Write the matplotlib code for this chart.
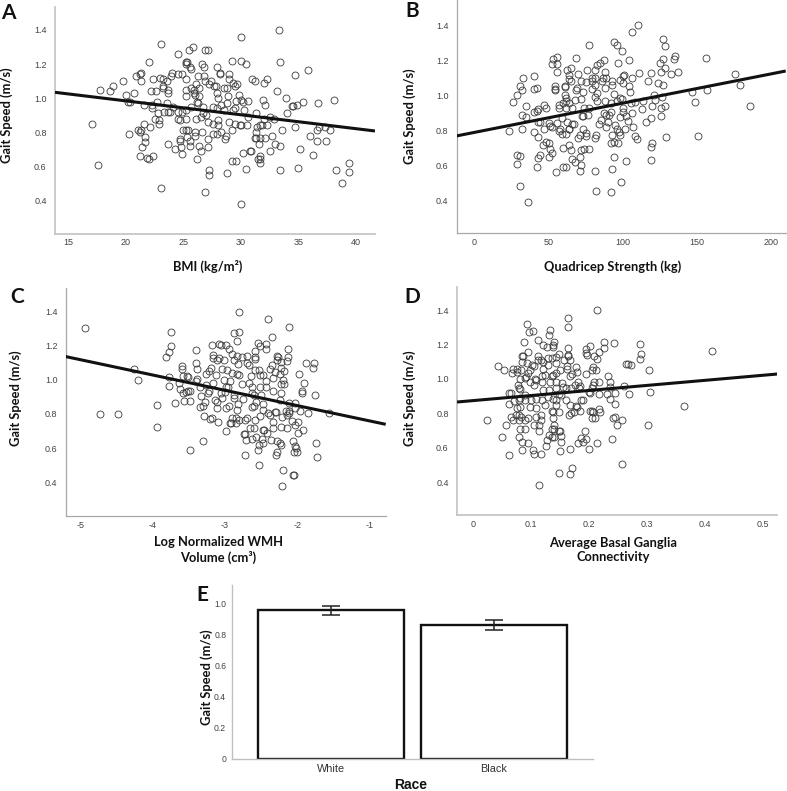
"""Gait speed vs BMI, strength, WMH, connectivity and race: five panel figure."""
import numpy as np
import matplotlib
matplotlib.use("Agg")
import matplotlib.pyplot as plt

W, H = 787, 791

SPEED_TICKS = [0.4, 0.6, 0.8, 1.0, 1.2, 1.4]

# (x, gait speed)
bmi_points = [
    (17.1,.85),(17.6,.61),(17.8,1.05),(18.6,1.04),(18.9,1.07),(19.8,1.10),(20.0,1.02),(20.2,.98),(20.4,.98),(20.3,.79),
    (20.7,1.03),(20.9,1.13),(21.1,.81),(21.2,1.14),(21.3,1.15),(21.3,1.10),(21.2,.80),(21.3,.81),(21.2,.66),(21.4,.71),
    (21.6,.85),(21.6,.96),(21.7,.74),(21.7,.77),(21.8,.65),(22.0,.64),(22.0,1.21),(22.1,.83),(22.2,1.04),(22.3,.96),
    (22.3,.94),(22.4,1.11),(22.4,.66),(22.5,.88),(22.6,1.04),(22.7,.98),(22.8,.91),(22.9,.87),(22.9,.85),(23.0,1.12),
    (23.1,1.32),(23.1,.47),(23.2,1.07),(23.2,1.11),(23.2,1.06),(23.3,.92),(23.6,1.10),(23.6,.97),(23.7,.92),(23.7,1.05),
    (23.7,1.03),(23.7,.73),(23.8,.92),(23.9,1.13),(24.0,1.15),(24.1,.95),(24.3,.70),(24.5,1.14),(24.5,.92),(24.5,.88),
    (24.7,.87),(24.7,.76),(24.7,.75),(24.8,.71),(24.55,1.26),(24.9,.67),(24.9,1.14),(25.2,1.21),(25.2,1.20),(25.3,1.21),
    (25.6,1.18),(25.5,1.28),(25.8,1.30),(25.7,1.17),(25.2,1.11),(25.2,1.05),(25.2,1.01),(25.7,1.06),(25.9,1.05),(25.9,1.03),
    (26.0,1.02),(26.1,1.08),(26.3,1.13),(26.4,1.06),(26.2,.98),(26.4,1.01),(26.3,.97),(25.7,.95),(25.2,.93),(24.9,.92),
    (25.2,.88),(26.1,.88),(26.5,.89),(26.7,.91),(26.7,.95),(27.0,.90),(27.1,.86),(25.0,.81),(25.2,.81),(25.4,.81),
    (25.3,.77),(25.6,.75),(25.6,.72),(26.0,.78),(26.0,.80),(26.6,.80),(26.4,.72),(26.5,.69),(26.2,.64),(27.1,.71),
    (27.1,.76),(27.2,.58),(27.2,.55),(26.9,.45),(26.6,1.20),(26.8,1.18),(26.9,1.28),(27.1,1.285),(26.8,1.13),(26.9,1.10),
    (27.2,1.08),(27.4,1.10),(27.7,1.07),(27.8,1.07),(27.9,1.18),(28.2,1.15),(28.2,1.14),(28.5,1.06),(27.9,1.03),(28.0,1.00),
    (27.6,.95),(27.9,.94),(28.3,.96),(27.6,.85),(28.0,.87),(28.0,.84),(27.6,.79),(27.9,.79),(28.3,.80),(28.7,.775),
    (28.6,.76),(28.5,.93),(28.8,1.06),(29.0,1.14),(29.0,1.11),(29.2,1.22),(29.3,1.09),(29.5,1.07),(29.7,1.08),(28.9,1.01),
    (28.8,.97),(29.0,.86),(29.2,.81),(29.5,.85),(29.9,.84),(30.0,.84),(29.3,.93),(29.5,.94),(29.6,.985),(29.8,1.02),
    (30.0,.99),(30.2,.98),(30.0,1.22),(30.4,1.20),(30.0,1.36),(30.0,.38),(29.2,.63),(29.6,.63),(28.8,.56),(30.4,.585),
    (30.2,.68),(30.8,.69),(30.9,.69),(30.3,.93),(30.6,.89),(30.5,.84),(30.6,.985),(30.95,1.11),(31.2,1.10),(32.0,1.09),
    (32.3,1.11),(31.35,.915),(31.9,.99),(32.1,.96),(31.35,.80),(31.4,.83),(31.7,.84),(31.8,.84),(32.3,.84),(32.0,.88),
    (32.5,.89),(32.9,.875),(31.2,.765),(31.3,.765),(31.7,.765),(32.1,.765),(32.7,.78),(33.0,.73),(33.4,.72),(31.6,.73),
    (32.5,.69),(31.5,.64),(31.7,.66),(31.7,.64),(31.7,.62),(33.4,.58),(35.0,.59),(35.1,.70),(36.3,.665),(36.0,.775),
    (36.6,.75),(37.4,.75),(36.6,.81),(36.8,.83),(37.3,.83),(37.7,.81),(38.1,.99),(36.7,.97),(35.4,.98),(34.9,.96),
    (34.5,.955),(34.45,.955),(34.0,.91),(33.9,1.00),(33.1,1.04),(33.4,1.21),(33.35,1.40),(34.7,1.135),(35.8,1.165),(34.7,.83),
    (33.6,.815),(38.3,.575),(38.8,.50),(39.35,.62),(39.35,.565),
]
strength_points = [
    (23,.796),(26.3,.96),(29,1.0),(29,.66),(31,.655),(29,.61),(30.4,.48),(36,.39),(31,1.055),(32,1.03),
    (33,1.10),(32,.885),(32,.81),(35,.875),(35,.94),(40,1.035),(42,1.04),(40,1.11),(40,.905),(42,.91),
    (43,.92),(43,.85),(44,.85),(40,.79),(43,.76),(46,.715),(43,.64),(44,.66),(42,.59),(47,.945),
    (48,.93),(47,.81),(50,.84),(51,.825),(48,.735),(50,.73),(51,.695),(52,.67),(50,.645),(52.5,.82),
    (52,1.18),(53,1.205),(56,1.22),(56,1.18),(56,1.135),(54,1.055),(54,1.035),(54,1.03),(55,.56),(57,.945),
    (57,.925),(56,.84),(58,.81),(57,.795),(59,.78),(61,1.045),(62.5,1.145),(61,1.055),(60,.70),(60,.59),
    (62,.59),(61,1.0),(62,.985),(60,.955),(62,.965),(62,.93),(59,.87),(62.5,.85),(62,.78),(64,.81),
    (64,.805),(64,.715),(65,.69),(65,1.155),(64,1.115),(64,1.095),(65,1.08),(64,.955),(66,.93),(65.5,.835),
    (67,.835),(66,.635),(67.5,.62),(68.5,1.215),(68,.975),(69,1.04),(68.5,1.03),(70,1.12),(72,1.08),(72,.98),
    (73,1.02),(70,.755),(71.5,.775),(71,.565),(72,.60),(71,.65),(72,.685),(72.5,.88),(73.5,.88),(74,.925),
    (73,.81),(75,.785),(75,.77),(74,.695),(77,.695),(76.5,.885),(77.5,.925),(76,1.145),(75.5,1.075),(79,1.08),
    (77,1.285),(79,1.10),(81,1.145),(81.5,1.10),(79,1.035),(81,1.06),(81,.99),(83,1.015),(83,1.175),(84.5,1.185),
    (87.5,1.20),(81,.755),(82,.775),(81,.565),(82,.455),(84,.835),(85.5,.86),(83,.965),(86.5,1.10),(86,1.08),
    (88,1.135),(88,1.04),(89,1.10),(88,.965),(87.5,.90),(89,.885),(89,.82),(90,.85),(91,.89),(93,1.08),
    (92.5,1.06),(94,1.01),(92,.955),(92,.905),(93,.775),(92,.73),(94,.735),(93,.58),(94,.65),(92,.45),
    (94,1.305),(96.5,1.285),(99.5,1.255),(97,1.185),(95,.83),(96,.81),(97.5,.79),(98,.775),(97,.725),(96,.965),
    (98,.985),(99.5,.98),(98,1.09),(100,1.11),(101,1.115),(100,1.07),(99,.505),(102,.625),(101.5,.81),(98,.875),
    (100,.925),(100,.905),(102,.88),(103.5,.855),(104.5,1.20),(104.5,1.055),(105,1.02),(105.5,.955),(106,.90),(106,1.10),
    (106,1.36),(107,.82),(108,.96),(108,.77),(109.5,.75),(110,1.40),(111,1.13),(113,.92),(114,.965),(116,.85),
    (117,1.08),(119,1.13),(119,.87),(119,.705),(120,.73),(119,.63),(120,.94),(121,1.0),(122,.975),(124,1.07),
    (125.5,1.185),(126,1.135),(127,1.21),(127,1.32),(128.5,1.28),(127,1.06),(126.5,.99),(126,.93),(126,.88),(128.5,.94),
    (128.5,1.155),(129.5,.76),(132.5,1.12),(134.5,1.205),(135,1.225),(137,1.135),(147,1.02),(149,.96),(151,.77),(156,1.215),
    (157,1.03),(176,1.12),(179,1.06),(186,.94),
]
wmh_points = [
    (-4.94,1.30),(-4.73,.80),(-4.48,.80),(-4.26,1.06),(-4.2,1.0),(-3.94,.85),(-3.94,.725),(-3.81,1.13),(-3.78,1.16),(-3.74,1.195),
    (-3.75,1.28),(-3.78,1.015),(-3.78,.965),(-3.69,.865),(-3.63,.98),(-3.6,1.08),(-3.59,1.065),(-3.62,.945),(-3.58,1.02),(-3.58,.925),
    (-3.57,.875),(-3.54,.93),(-3.53,1.02),(-3.51,1.015),(-3.51,.935),(-3.48,.935),(-3.49,.875),(-3.48,.59),(-3.4,1.175),(-3.4,1.095),
    (-3.39,1.065),(-3.4,.995),(-3.38,1.005),(-3.35,.955),(-3.35,.84),(-3.33,.905),(-3.3,.845),(-3.28,.87),(-3.29,.79),(-3.3,.64),
    (-3.26,1.035),(-3.26,.97),(-3.24,.92),(-3.22,.935),(-3.21,.77),(-3.18,.775),(-3.22,1.05),(-3.18,1.20),(-3.19,1.07),(-3.17,1.145),
    (-3.16,1.125),(-3.17,.98),(-3.14,.88),(-3.12,1.025),(-3.11,1.115),(-3.1,.755),(-3.11,.835),(-3.11,.87),(-3.08,1.21),(-3.06,1.205),
    (-3.08,1.125),(-3.06,.92),(-3.04,1.065),(-3.04,.89),(-3.02,1.0),(-3.01,1.115),(-3.0,.93),(-2.99,1.2),(-2.99,.955),(-2.99,.70),
    (-2.96,.955),(-2.98,.835),(-2.95,.845),(-2.95,1.18),(-2.97,1.055),(-2.93,.99),(-2.93,.745),(-2.91,.745),(-2.9,1.04),(-2.9,1.15),
    (-2.88,1.115),(-2.88,.91),(-2.88,.895),(-2.9,.775),(-2.88,1.27),(-2.84,1.035),(-2.81,1.03),(-2.83,1.225),(-2.83,1.14),(-2.81,1.28),
    (-2.81,1.395),(-2.82,1.09),(-2.85,.775),(-2.85,.745),(-2.82,.86),(-2.83,.82),(-2.81,.765),(-2.77,1.135),(-2.77,.975),(-2.75,.885),
    (-2.74,.685),(-2.72,.685),(-2.72,.56),(-2.71,.65),(-2.7,1.14),(-2.7,1.10),(-2.67,1.085),(-2.69,.775),(-2.72,.765),(-2.66,.715),
    (-2.63,.655),(-2.6,.72),(-2.64,1.02),(-2.67,.98),(-2.63,.96),(-2.62,.92),(-2.6,.91),(-2.62,.84),(-2.6,.845),(-2.59,1.13),
    (-2.58,1.12),(-2.59,1.17),(-2.58,1.055),(-2.57,.87),(-2.58,.765),(-2.57,.665),(-2.55,.59),(-2.55,1.215),(-2.52,1.195),(-2.53,.5),
    (-2.53,.62),(-2.52,.79),(-2.51,1.03),(-2.52,.96),(-2.5,.91),(-2.53,1.055),(-2.49,.655),(-2.48,.705),(-2.46,.705),(-2.42,.69),
    (-2.47,.63),(-2.47,.825),(-2.47,.86),(-2.47,1.03),(-2.44,1.21),(-2.43,1.18),(-2.44,.99),(-2.43,.955),(-2.4,1.355),(-2.4,.805),
    (-2.38,.795),(-2.38,1.06),(-2.35,1.25),(-2.35,1.085),(-2.34,.75),(-2.33,.715),(-2.36,.65),(-2.33,1.01),(-2.34,.935),(-2.31,.81),
    (-2.3,.81),(-2.31,1.045),(-2.28,1.14),(-2.27,1.13),(-2.28,1.115),(-2.29,.56),(-2.28,.58),(-2.28,.64),(-2.24,.63),(-2.23,.62),
    (-2.23,.725),(-2.24,.88),(-2.23,.92),(-2.24,1.035),(-2.22,1.105),(-2.22,1.07),(-2.22,.975),(-2.19,.975),(-2.2,1.0),(-2.21,.78),
    (-2.2,.47),(-2.21,.38),(-2.18,1.05),(-2.16,.815),(-2.15,1.11),(-2.13,1.18),(-2.13,1.13),(-2.14,.72),(-2.14,.795),(-2.12,.865),
    (-2.12,.805),(-2.11,1.31),(-2.11,.815),(-2.07,.76),(-2.06,.64),(-2.05,.445),(-2.06,.44),(-2.04,.575),(-2.03,.865),(-2.03,.835),
    (-2.03,.735),(-2.03,.61),(-2.02,.6),(-2.0,.58),(-1.99,.755),(-1.99,.69),(-1.98,1.035),(-1.97,.815),(-1.94,.935),(-1.94,.925),
    (-1.92,.705),(-1.91,.98),(-1.88,1.095),(-1.86,.805),(-1.79,1.07),(-1.77,1.1),(-1.76,.91),(-1.74,.63),(-1.73,.55),(-1.57,.805),
]
conn_points = [
    (.024,.76),(.043,1.075),(.051,.66),(.054,1.05),(.057,.735),(.063,.555),(.062,.92),(.066,.92),(.063,.855),(.067,1.035),
    (.069,1.06),(.066,.78),(.07,.76),(.072,.87),(.077,1.06),(.076,1.04),(.078,.965),(.079,.95),(.076,.83),(.079,.88),
    (.075,.79),(.08,.79),(.08,.76),(.081,.71),(.08,.66),(.082,1.0),(.082,.94),(.083,1.055),(.082,.89),(.082,.835),
    (.083,.78),(.085,.635),(.085,.585),(.085,1.135),(.086,1.135),(.085,1.10),(.088,1.215),(.09,.875),(.091,.905),(.09,1.005),
    (.092,1.01),(.09,.76),(.09,.71),(.093,1.32),(.094,1.095),(.096,1.155),(.097,1.275),(.096,1.035),(.096,.775),(.096,.625),
    (.098,.835),(.098,.98),(.099,1.055),(.101,.88),(.104,1.28),(.102,1.08),(.105,1.075),(.105,.73),(.104,.585),(.105,.565),
    (.106,.965),(.108,1.0),(.109,.885),(.11,.995),(.112,1.225),(.112,1.135),(.113,1.11),(.11,.83),(.11,.78),(.114,.385),
    (.115,.70),(.114,.73),(.117,.565),(.117,.76),(.117,.79),(.118,1.11),(.119,1.015),(.12,.88),(.119,.985),(.122,1.06),
    (.122,.935),(.122,1.10),(.122,1.20),(.125,.85),(.125,1.025),(.126,.61),(.128,1.185),(.128,.645),(.129,1.12),(.129,1.08),
    (.13,.895),(.132,.935),(.132,1.255),(.133,1.285),(.132,.675),(.133,.985),(.136,1.015),(.136,.815),(.138,.81),(.137,.71),
    (.136,.665),(.136,1.125),(.138,1.185),(.14,1.215),(.139,1.2),(.138,.885),(.139,1.025),(.141,.73),(.139,.77),(.14,.665),
    (.14,.71),(.144,1.13),(.144,.985),(.144,1.095),(.144,1.035),(.144,.945),(.144,.85),(.144,.875),(.148,.805),(.148,.70),
    (.15,.695),(.149,.455),(.149,1.145),(.15,1.05),(.148,.915),(.151,.58),(.153,.67),(.153,.635),(.153,.905),(.154,.975),
    (.156,.955),(.158,1.11),(.16,.945),(.16,.875),(.162,1.075),(.163,1.06),(.164,1.18),(.164,1.14),(.165,1.135),(.164,1.305),
    (.165,1.355),(.166,.79),(.167,.59),(.168,.85),(.167,1.11),(.168,1.015),(.17,.80),(.169,.95),(.168,.445),(.172,.48),
    (.171,1.03),(.175,.805),(.177,.965),(.178,.84),(.179,.835),(.178,1.07),(.179,1.04),(.182,.985),(.182,.625),(.184,.95),
    (.185,.815),(.186,.655),(.186,.88),(.185,.96),(.191,.88),(.19,.635),(.193,.695),(.195,.65),(.195,1.03),(.195,1.175),
    (.196,1.15),(.197,1.14),(.2,.595),(.203,1.195),(.202,.815),(.205,.815),(.203,.92),(.2,.925),(.205,1.055),(.205,.95),
    (.208,.965),(.209,.98),(.209,1.135),(.208,1.07),(.206,.775),(.21,.775),(.208,.81),(.213,1.055),(.214,.625),(.215,1.40),
    (.215,1.115),(.217,.915),(.217,1.155),(.218,.98),(.217,.825),(.219,.81),(.226,1.18),(.227,1.215),(.232,.915),(.234,1.02),
    (.236,.985),(.236,.955),(.236,.885),(.24,.65),(.242,.775),(.243,1.21),(.245,.92),(.245,.855),(.246,.78),(.248,.73),
    (.257,.76),(.258,.505),(.261,.96),(.264,1.09),(.268,1.09),(.27,.915),(.273,1.08),(.288,1.115),(.288,1.205),(.29,1.145),
    (.302,.73),(.304,1.05),(.306,.925),(.364,.845),(.413,1.165),
]

# fit lines, end points as seen in the figure
bmi_fit = ([13.85, 41.65], [1.034, 0.807])
strength_fit = ([-12, 210], [0.768, 1.139])
wmh_fit = ([-5.2, -0.78], [1.135, 0.739])
conn_fit = ([-0.027, 0.525], [0.866, 1.029])

race = ["White", "Black"]
race_speed = [0.96, 0.862]
race_low = [0.927, 0.83]
race_high = [0.987, 0.897]


def px_axes(fig, left, right, top, bottom):
    """Axes placed by image pixels (origin top left)."""
    return fig.add_axes([left / W, 1 - bottom / H, (right - left) / W, (bottom - top) / H])


def px_text(fig, x, y, s, **kw):
    fig.text(x / W, 1 - y / H, s, ha="center", va="center", **kw)


def scatter_panel(fig, box, points, fit, xlim, ylim, xticks, xlabels, spine_color, spine_width):
    ax = px_axes(fig, *box)
    pts = np.array(points)
    ax.plot(pts[:, 0], pts[:, 1], "o", ms=5.0, mfc="none", mec="#3a3a3a", mew=0.6, clip_on=False)
    ax.plot(fit[0], fit[1], color="#111111", lw=2.2, solid_capstyle="butt", zorder=5)
    ax.set_xlim(*xlim)
    ax.set_ylim(*ylim)
    ax.set_xticks(xticks, xlabels)
    ax.set_yticks(SPEED_TICKS, [f"{t:.1f}" for t in SPEED_TICKS])
    ax.tick_params(length=0, labelsize=6.5, labelcolor="#444444", labelfontfamily="Liberation Sans")
    ax.tick_params(axis="x", pad=3.5)
    ax.tick_params(axis="y", pad=6)
    for side in ("top", "right"):
        ax.spines[side].set_visible(False)
    for side in ("left", "bottom"):
        ax.spines[side].set_color(spine_color)
        ax.spines[side].set_linewidth(spine_width)
    return ax


fig = plt.figure(figsize=(W / 100, H / 100), dpi=100)
label_kw = dict(fontfamily="Lato", fontweight="bold", fontsize=9.3, color="#111111")
letter_kw = dict(fontfamily="Lato", fontweight="bold", fontsize=15, color="#111111")

scatter_panel(fig, (55, 375, 7, 233.5), bmi_points, bmi_fit, (13.85, 41.65), (0.205, 1.535),
              [15, 20, 25, 30, 35, 40], ["15", "20", "25", "30", "35", "40"], "#c6c6c6", 1.3)
scatter_panel(fig, (456.7, 785.7, 0, 233.3), strength_points, strength_fit, (-12, 210), (0.211, 1.545),
              [0, 50, 100, 150, 200], ["0", "50", "100", "150", "200"], "#a8a8a8", 0.9)
scatter_panel(fig, (65.7, 385.7, 288, 516), wmh_points, wmh_fit, (-5.2, -0.78), (0.203, 1.536),
              [-5, -4, -3, -2, -1], ["-5", "-4", "-3", "-2", "-1"], "#a8a8a8", 0.9)
scatter_panel(fig, (457, 777.3, 286.7, 515), conn_points, conn_fit, (-0.027, 0.525), (0.208, 1.5375),
              [0, 0.1, 0.2, 0.3, 0.4, 0.5], ["0", "0.1", "0.2", "0.3", "0.4", "0.5"], "#c6c6c6", 1.3)

# --- race bars ---
ax = px_axes(fig, 231.7, 592.7, 585, 758.7)
xpos = np.arange(len(race))
ax.bar(xpos, race_speed, width=0.9, facecolor="white", edgecolor="#111111", linewidth=1.7, zorder=2)
yerr = [np.array(race_speed) - np.array(race_low), np.array(race_high) - np.array(race_speed)]
ax.errorbar(xpos, race_speed, yerr=yerr, fmt="none", ecolor="#222222", elinewidth=1.1,
            capsize=6.5, capthick=1.1, zorder=3)
ax.set_xlim(-0.609, 1.606)
ax.set_ylim(0, 1.12)
ax.set_xticks(xpos, race, fontfamily="Liberation Sans", fontsize=7.8, color="#333333")
ax.set_yticks([0, 0.2, 0.4, 0.6, 0.8, 1.0], ["0", "0.2", "0.4", "0.6", "0.8", "1.0"],
              fontfamily="Liberation Sans", fontsize=6.2, color="#444444")
ax.tick_params(length=0)
ax.tick_params(axis="x", pad=4)
ax.tick_params(axis="y", pad=4)
for side in ("top", "right"):
    ax.spines[side].set_visible(False)
for side in ("left", "bottom"):
    ax.spines[side].set_color("#c0c0c0")
    ax.spines[side].set_linewidth(1.0)

# --- axis titles and panel letters, placed by hand like the source figure ---
px_text(fig, 7, 115, "Gait Speed (m/s)", rotation=90, **label_kw)
px_text(fig, 410, 116, "Gait Speed (m/s)", rotation=90, **label_kw)
px_text(fig, 15.5, 398, "Gait Speed (m/s)", rotation=90, **label_kw)
px_text(fig, 410, 398, "Gait Speed (m/s)", rotation=90, **label_kw)
px_text(fig, 207, 677, "Gait Speed (m/s)", rotation=90, **label_kw)

px_text(fig, 208, 266, "BMI (kg/m²)", **label_kw)
px_text(fig, 613, 267, "Quadricep Strength (kg)", **label_kw)
px_text(fig, 218, 550, "Log Normalized WMH\nVolume (cm³)", linespacing=1.2, **label_kw)
px_text(fig, 613, 550, "Average Basal Ganglia\nConnectivity", linespacing=1.2, **label_kw)
px_text(fig, 411, 785, "Race", fontfamily="Liberation Sans", fontweight="bold", fontsize=10, color="#111111")

px_text(fig, 8, 13, "A", **letter_kw)
px_text(fig, 412, 11, "B", **letter_kw)
px_text(fig, 17.5, 297, "C", **letter_kw)
px_text(fig, 412, 297, "D", **letter_kw)
px_text(fig, 202, 595, "E", **letter_kw)

fig.savefig("out.png", dpi=100)
